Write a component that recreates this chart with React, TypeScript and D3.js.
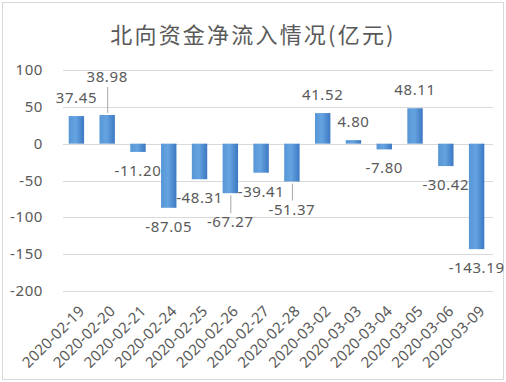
import React from "react";
import * as d3 from "d3";

const categories = [
  "2020-02-19", "2020-02-20", "2020-02-21", "2020-02-24", "2020-02-25",
  "2020-02-26", "2020-02-27", "2020-02-28", "2020-03-02", "2020-03-03",
  "2020-03-04", "2020-03-05", "2020-03-06", "2020-03-09",
];
const values = [
  37.45, 38.98, -11.2, -87.05, -48.31, -67.27, -39.41, -51.37, 41.52, 4.8,
  -7.8, 48.11, -30.42, -143.19,
];
const yTicks = [100, 50, 0, -50, -100, -150, -200];
const title = "北向资金净流入情况(亿元)";

// label layout tweaks (pixel nudges for overlapping labels, with leader lines)
const labelNudge: Record<number, number> = { 1: -20, 5: 10, 7: 9 };

const W = 506;
const H = 382;
const left = 61;
const right = 492;
const top = 70;
const bottom = 291;

export default function App() {
  const x = d3.scaleBand<string>().domain(categories).range([left, right]).paddingInner(0.5).paddingOuter(0.25);
  const y = d3.scaleLinear().domain([-200, 100]).range([bottom, top]);
  const bw = x.bandwidth();
  const font = "'Noto Sans', 'Open Sans', sans-serif";
  const txt = "#595959";

  return (
    <svg width={W} height={H} style={{ position: "absolute", left: 0, top: 0, background: "#fff" }}>
      <defs>
        <linearGradient id="barGrad" x1="0" x2="1" y1="0" y2="0">
          <stop offset="0%" stopColor="#5796d6" />
          <stop offset="45%" stopColor="#65a3e0" />
          <stop offset="100%" stopColor="#3b78c2" />
        </linearGradient>
      </defs>
      <rect x={2.5} y={2.5} width={W - 5} height={H - 5} fill="#fff" stroke="#d9d9d9" />
      <text x={253} y={43} textAnchor="middle" fontSize={22} letterSpacing={2.2} fill={txt}
        fontFamily="'Noto Sans CJK SC', sans-serif">{title}</text>
      {yTicks.map((t) => (
        <g key={t}>
          <line x1={left + 2} x2={right + 1} y1={Math.round(y(t)) + 0.5} y2={Math.round(y(t)) + 0.5} stroke="#d9d9d9" />
          <text x={43} y={y(t) + 5} textAnchor="end" fontSize={15} letterSpacing={0.6} fill={txt} fontFamily={font}>{t}</text>
        </g>
      ))}
      {categories.map((c, i) => {
        const v = values[i];
        const cx = (x(c) as number) + bw / 2;
        const y0 = y(0);
        const y1 = y(v);
        const nudge = labelNudge[i] || 0;
        const ly = v >= 0 ? y1 - 13 + nudge : y1 + 24 + nudge;
        return (
          <g key={c}>
            <rect x={x(c)} y={Math.min(y0, y1)} width={bw} height={Math.abs(y1 - y0)} fill="url(#barGrad)" />
            {nudge !== 0 && (
              <line x1={cx + 0.5} x2={cx + 0.5}
                y1={v >= 0 ? ly + 5 : y1 + 2}
                y2={v >= 0 ? y1 - 2 : ly - 14}
                stroke="#a6a6a6" />
            )}
            <text x={cx} y={ly} textAnchor="middle" fontSize={15} letterSpacing={0.6} fill={txt} fontFamily={font}>
              {v.toFixed(2)}
            </text>
            <text transform={`translate(${cx + 9},${bottom + 21}) rotate(-45)`} textAnchor="end" fontSize={15}
              letterSpacing={0.2} fill={txt} fontFamily={font}>{c}</text>
          </g>
        );
      })}
    </svg>
  );
}
